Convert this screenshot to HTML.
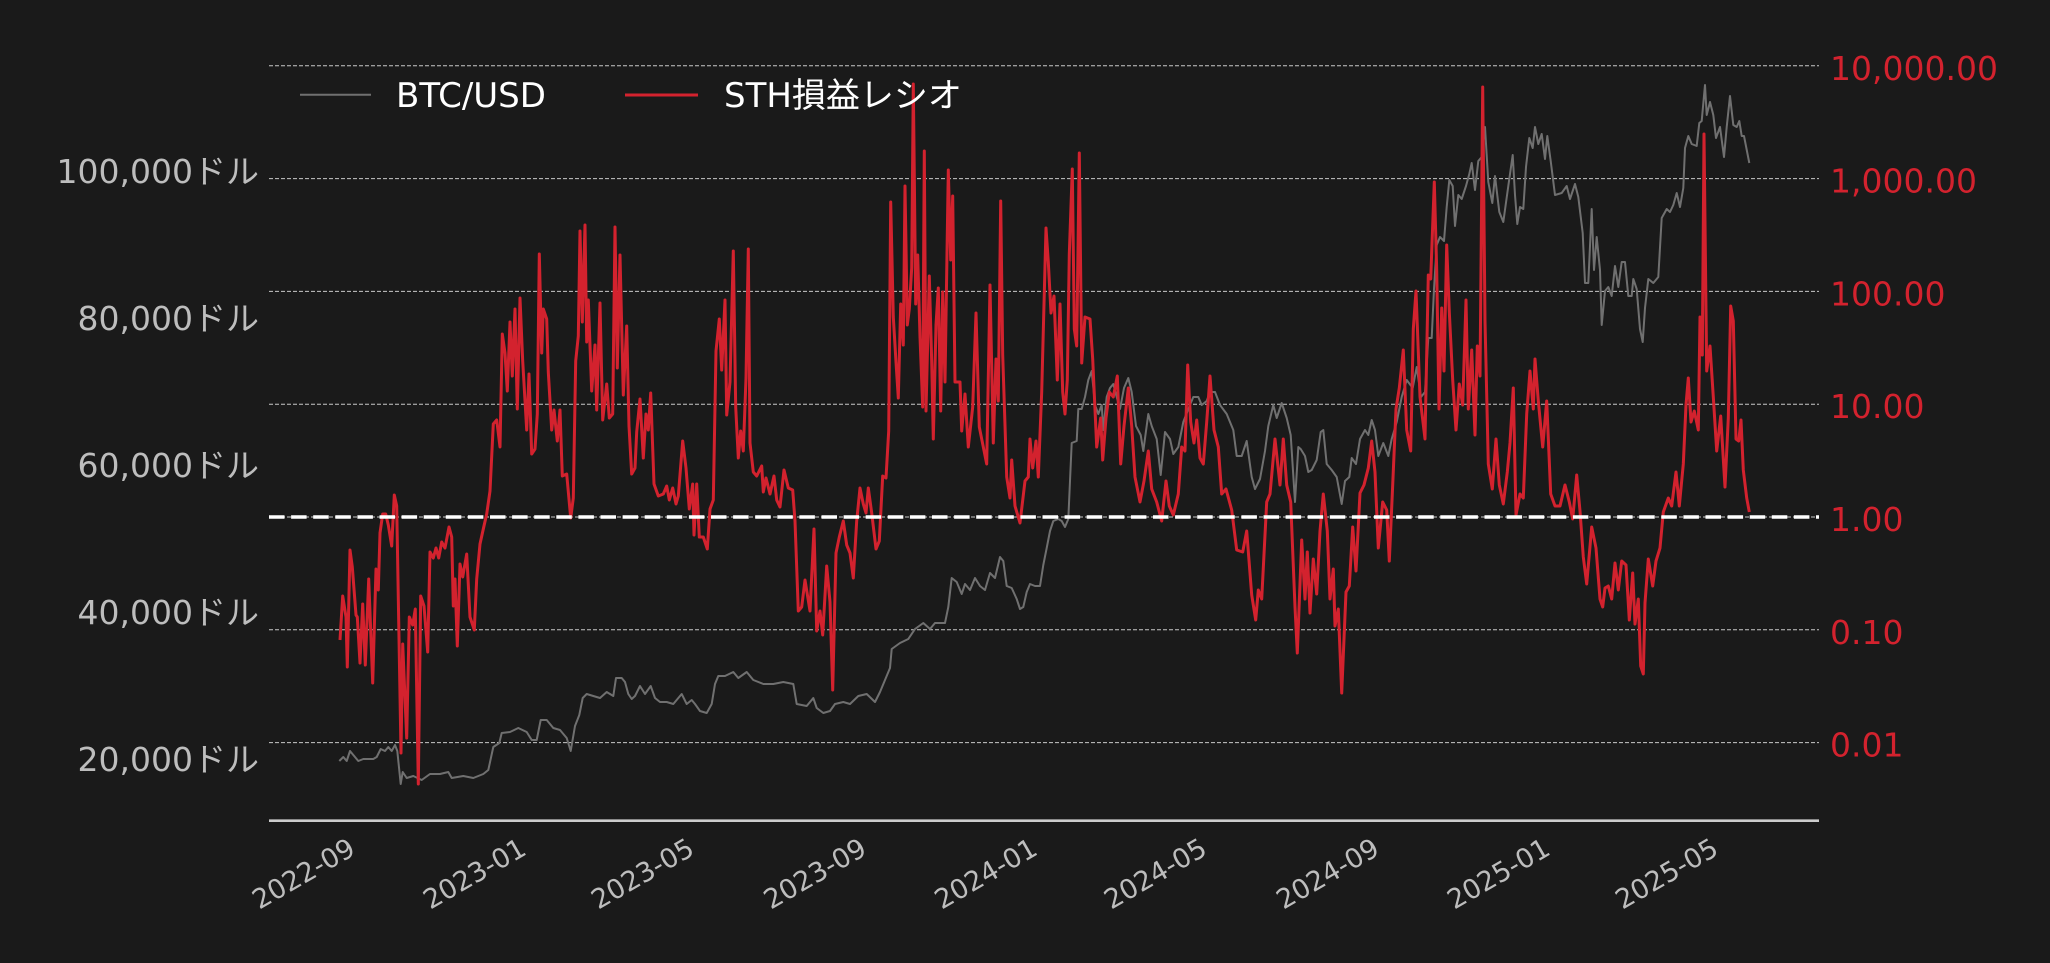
<!DOCTYPE html>
<html>
<head>
<meta charset="utf-8">
<style>
html,body{margin:0;padding:0;background:#1a1a1a;}
svg{display:block;}
.yl{font-family:"DejaVu Sans","Noto Sans CJK JP",sans-serif;font-size:33px;fill:#bdbdbd;}
.yr{font-family:"DejaVu Sans","Noto Sans CJK JP",sans-serif;font-size:33px;fill:#d3222e;}
.xl{font-family:"DejaVu Sans","Noto Sans CJK JP",sans-serif;font-size:27px;fill:#bdbdbd;}
.lg{font-family:"DejaVu Sans","Noto Sans CJK JP",sans-serif;font-size:34px;fill:#ffffff;}
</style>
</head>
<body>
<svg width="2050" height="963" viewBox="0 0 2050 963" xmlns="http://www.w3.org/2000/svg">
<rect x="0" y="0" width="2050" height="963" fill="#1a1a1a"/>

<!-- grid lines (right log axis) -->
<g stroke="#c8c8c8" stroke-width="1" stroke-dasharray="4 2">
<line x1="269" y1="65.8" x2="1819" y2="65.8"/>
<line x1="269" y1="178.6" x2="1819" y2="178.6"/>
<line x1="269" y1="291.4" x2="1819" y2="291.4"/>
<line x1="269" y1="404.2" x2="1819" y2="404.2"/>
<line x1="269" y1="517" x2="1819" y2="517"/>
<line x1="269" y1="629.8" x2="1819" y2="629.8"/>
<line x1="269" y1="742.6" x2="1819" y2="742.6"/>
</g>

<!-- BTC/USD -->
<polyline fill="none" stroke="#707070" stroke-width="2" stroke-linejoin="round" points="339.3,761 343.3,757 346.7,761 350,751 353.3,755 358.3,761 363.3,759 368.3,759 373.3,759 376.7,757 380.7,749 385,751 388.3,747 391.7,751 395,745 397.3,751 400.7,784 402.7,772 406.7,778 413.3,776 421.7,780 430,774 440,774 448.3,772 451.7,778 463.3,776 473.3,778 483.3,774 488.3,770 493.3,747 499.3,743 501.7,733 510,732 518.3,728 526.7,732 531.7,740 536.7,740 540.7,720 546.7,720 553.3,728 560,730 566.7,738 570.7,751 575,726 579.3,715 582.7,698 586.7,694 593.3,696 600,698 606.7,692 613.3,696 616,678 621.7,678 625,682 628.3,694 631.7,699 635,696 640,686 645,694 650.7,686 655,698 660,702 666.7,702 673.3,704 681.7,694 686.7,704 691.7,700 695,704 700,711 706.7,713 711.7,704 715,684 718.3,676 725,676 733.3,672 738.3,678 746.7,672 753.3,680 763.3,684 773.3,684 783.3,682 793.3,684 796.7,704 806.7,706 813.3,698 816.7,708 823.3,713 830,711 835,704 843.3,702 850,704 858.3,696 866.7,694 875,702 880,692 885,680 890,668 891.7,649 900,643 908.3,639 915,629 923.3,623 930,629 935,623 940,623 945,623 948.3,607 951.7,578 956.7,582 961.7,594 965,584 970,590 975,578 980,586 985,590 990,573 995,578 1000,557 1003.3,561 1006.7,586 1011.7,588 1016.7,599 1020,609 1023.3,607 1026.7,592 1030,584 1035,586 1040,586 1043.3,565 1046.7,548 1050,531 1053.3,521 1058.3,519 1061.7,521 1065,527 1068.3,519 1070,481 1071.7,443 1076.7,441 1078.3,409 1081.7,409 1085,397 1088.3,380 1091.7,371 1095,405 1098.3,414 1101.7,405 1103.3,430 1106.7,397 1110,388 1113.3,384 1116.7,397 1120,409 1124,388 1128.3,378 1131.7,392 1136,426 1140.7,435 1143.3,451 1148.3,414 1151.7,426 1156.7,439 1160.7,475 1165,432 1170,439 1173.3,454 1178.3,447 1183.3,422 1188.3,409 1193.3,397 1198.3,397 1201.7,405 1206.7,401 1210,392 1215,392 1220,405 1226.7,414 1233.3,430 1236.7,456 1241.7,456 1246.7,441 1251.7,477 1255,489 1260,479 1265,451 1268.3,426 1273.3,405 1276.7,418 1281.7,403 1286.7,418 1290.7,435 1295,502 1298.3,447 1300.7,449 1305,456 1308.3,472 1311.7,470 1316.7,460 1320.7,432 1323.3,430 1326.7,464 1331.7,470 1336.7,477 1341.7,504 1345,481 1349.3,477 1351.7,458 1356,464 1360,439 1365,430 1368.3,435 1371.7,420 1375,430 1378.3,456 1383.3,443 1388.3,456 1391.7,439 1396.7,422 1401.7,397 1406.7,380 1412.7,388 1416.7,367 1421,397 1425,392 1428.3,338 1431.7,338 1434,289 1436.7,245 1440,237 1444,241 1446.7,207 1449.3,180 1452.7,186 1455,226 1458.3,195 1461.7,199 1466,186 1469.3,174 1471.7,163 1475,190 1478.3,161 1481.7,157 1485,127 1488.3,182 1492.3,203 1495,176 1499.3,212 1503.3,222 1508.3,186 1512.7,155 1515,195 1517.3,224 1520,207 1523.3,209 1526,167 1529.3,138 1532.7,148 1535,127 1538.3,144 1541.7,134 1545,159 1547.3,136 1550.7,161 1555,195 1561.7,193 1566.7,186 1570,199 1575,184 1578.3,197 1582.7,233 1585,283 1588.3,283 1591.7,209 1594,270 1596.7,237 1600,270 1601.7,325 1605,291 1608.3,287 1611.7,296 1615,266 1618.3,287 1621.7,262 1625,262 1628.3,296 1631.7,296 1633.3,279 1636.7,289 1640,329 1642.7,342 1645,308 1648.3,279 1653.3,283 1658.3,277 1661.7,218 1666.7,209 1670,212 1673.3,205 1676.7,193 1680,207 1683.3,188 1685,148 1688.3,136 1691.7,144 1696.7,146 1699.3,123 1701.7,121 1705,85 1706.7,115 1710,102 1713.3,115 1716,138 1720,127 1724,157 1726.7,127 1730,96 1733.3,125 1736.7,127 1739.3,121 1741.7,136 1744,136 1749.3,163"/>

<!-- STH ratio -->
<polyline fill="none" stroke="#d3222e" stroke-width="3" stroke-linejoin="round" points="340,640 342.7,596 346,617 347.3,667 350,550 352.3,567 356,615 357.3,617 360,663 362.7,604 365.3,665 368.7,579 372.7,683 376,569 378.3,590 380,533 382.7,514 385.7,514 388.3,525 391.7,546 394.3,495 396.7,506 401,753 402.7,644 406.7,738 409.3,617 412.7,625 415.3,609 418.3,784 420.7,596 424,606 427.7,652 430,552 433.3,558 436,548 438.7,558 441.7,542 445,548 449,527 451.7,537 453.3,606 455,579 457.3,646 460,564 462.7,577 466.7,554 470,617 474.3,630 476.7,579 480,544 483.3,529 486.7,514 490,491 493.3,424 496.7,420 500,447 502.3,334 505,353 507.3,391 510,322 512.3,376 515,309 517.3,409 520,298 522.7,361 526.7,430 529,374 531.7,454 535,449 537.3,414 539.3,254 541.7,353 543.3,309 546.7,319 548.3,372 551.7,430 554,410 557.3,441 560,410 562.3,476 566.7,474 570.7,518 573.3,498 575.7,361 578.3,336 580,231 582.3,322 585,225 586.7,342 588.3,300 591.7,391 595,345 596.7,410 600,303 602.7,420 606.7,384 609.3,418 612.7,414 615,227 617.3,368 620,255 623.3,395 626.7,326 629,426 631.7,474 635,468 636.7,432 640,399 643.3,458 646,414 648.3,430 650.7,393 654,484 658.3,496 663.3,494 666.7,486 669.3,500 672.7,488 676,504 678.3,496 682.7,441 686,468 689.3,509 692.7,484 694,535 696.7,484 699.3,537 703.3,537 707.3,549 710,509 713.3,500 716,351 719.3,319 721.7,370 725,300 726.7,415 730,382 733.3,251 735.7,407 738.3,458 740.7,431 743.3,451 746,378 748.3,249 750,443 753.3,472 756.7,476 761.7,466 763.3,492 766,478 770,494 774,476 776.7,500 780,507 784,470 788.3,488 792.7,490 795,521 798.3,611 801.7,607 805,580 810,611 814,529 816.7,631 820,611 822.7,635 826.7,566 830,602 832.7,690 836,553 839.3,537 843.3,521 846.7,545 850,553 853.3,578 856.7,521 860,488 863.3,504 866,513 868.3,488 871.7,513 876,549 879.3,541 882.7,476 886,478 888.7,431 890.7,202 893.3,317 896,362 898.3,398 900.7,304 903.3,345 905,186 907.3,325 909.3,309 911.7,268 913.3,84 915.7,304 917.7,255 920,337 922.7,407 924.3,151 926,411 929.3,276 931.7,362 933.3,439 936,325 938.3,288 940.7,411 942.7,292 945,382 948.3,170 950.7,260 952.7,196 955,382 960,382 961.7,431 965,394 968.3,447 972.7,407 976,313 979.3,427 986.7,464 990,285 993.3,443 996,359 998.3,401 1000.7,201 1002.7,355 1006.7,477 1010,498 1011.7,460 1015,506 1020,523 1025,481 1028.3,477 1030,439 1032.7,468 1036,441 1038.3,477 1041.7,392 1046,228 1048.3,262 1051,313 1054,296 1057.3,380 1060,304 1062.7,392 1065,414 1067.3,380 1069.3,254 1072.3,169 1074.3,329 1076.7,346 1079.3,153 1081.7,363 1085,317 1090,319 1092.7,359 1096.7,447 1100.7,418 1102.7,460 1106,418 1109.3,392 1113.3,397 1117.3,376 1120.7,464 1124,426 1128.3,388 1131.7,426 1135,477 1140,502 1144,481 1148.3,451 1151.7,489 1156.7,502 1161.7,521 1166,481 1169.3,506 1173.3,515 1178.3,494 1181.7,447 1185,451 1187.7,365 1190.7,422 1194,443 1196.7,420 1200,458 1203.3,464 1206.7,422 1210,376 1214,430 1218.3,447 1221.7,494 1226,489 1231.7,510 1236.7,550 1242.7,552 1246.7,531 1251.7,595 1255.7,620 1258.3,590 1261.7,599 1266.7,502 1270,494 1275,439 1280,485 1283.3,439 1286.7,485 1290.7,502 1295,607 1297.3,653 1301.7,540 1305,599 1307.3,552 1310,613 1313.3,559 1316.7,594 1320,531 1323.3,494 1327.3,531 1330,599 1333.3,569 1335,626 1338.3,609 1341.7,693 1346,592 1349.3,586 1352.7,527 1356,571 1360,493 1364,485 1368.3,468 1371.7,441 1375,472 1378.3,548 1382.7,502 1386.7,510 1389.3,561 1392.7,485 1396,409 1399.3,388 1403.3,350 1406.7,430 1410.7,451 1413.3,329 1416,291 1420,397 1425,439 1428.3,275 1430.7,279 1434.3,182 1436.7,270 1439,409 1441.7,308 1444,371 1446.7,245 1449.3,312 1452.7,380 1456,430 1459.3,384 1462.7,405 1466,300 1468.3,409 1471.7,350 1475,435 1477.3,346 1480,376 1482.7,87 1485,321 1488.3,464 1492.3,489 1496,439 1499.3,485 1503.3,504 1507.3,472 1510,443 1513.3,388 1516,515 1520,494 1523.3,498 1526.7,414 1530,371 1533.3,409 1535,359 1538.3,401 1542.7,447 1546.7,401 1550.7,494 1555,506 1560,506 1565,485 1569.3,502 1572.7,519 1576.7,475 1580,511 1583.3,557 1586.7,584 1591.7,527 1596,548 1600,599 1602.7,607 1605,588 1608.3,586 1611.7,599 1615,563 1618.3,590 1621.7,561 1626,565 1629.3,620 1632.7,573 1635,624 1638.3,599 1640.7,666 1643.3,674 1645,603 1648.3,559 1652.7,586 1656,561 1660,548 1663.3,512 1668.3,498 1671.7,506 1676,472 1679.3,506 1683.3,464 1686,405 1688.3,378 1691,422 1694.3,411 1698.3,430 1700,317 1702.3,355 1704,134 1706.7,371 1710,346 1713.3,397 1716.7,451 1720.7,416 1725,487 1728.3,418 1730.7,306 1733.3,321 1736,439 1738.7,441 1741,420 1743.3,470 1746.7,498 1749.3,512"/>

<!-- reference line at 1.00 -->
<line x1="269" y1="517" x2="1819" y2="517" stroke="#ffffff" stroke-width="3.5" stroke-dasharray="15.5 6.6"/>

<!-- bottom spine -->
<line x1="269" y1="820.7" x2="1819" y2="820.7" stroke="#cccccc" stroke-width="2.7"/>

<!-- left tick labels -->
<text class="yl" x="259" y="183" text-anchor="end">100,000ドル</text>
<text class="yl" x="259" y="330" text-anchor="end">80,000ドル</text>
<text class="yl" x="259" y="477" text-anchor="end">60,000ドル</text>
<text class="yl" x="259" y="624" text-anchor="end">40,000ドル</text>
<text class="yl" x="259" y="771" text-anchor="end">20,000ドル</text>

<!-- right tick labels -->
<text class="yr" x="1830" y="80">10,000.00</text>
<text class="yr" x="1830" y="192.6">1,000.00</text>
<text class="yr" x="1830" y="305.4">100.00</text>
<text class="yr" x="1830" y="418.2">10.00</text>
<text class="yr" x="1830" y="531">1.00</text>
<text class="yr" x="1830" y="643.8">0.10</text>
<text class="yr" x="1830" y="756.6">0.01</text>

<!-- x tick labels -->
<text class="xl" text-anchor="end" transform="translate(357,853.5) rotate(-30)">2022-09</text>
<text class="xl" text-anchor="end" transform="translate(528,853.5) rotate(-30)">2023-01</text>
<text class="xl" text-anchor="end" transform="translate(696,853.5) rotate(-30)">2023-05</text>
<text class="xl" text-anchor="end" transform="translate(868.4,853.5) rotate(-30)">2023-09</text>
<text class="xl" text-anchor="end" transform="translate(1039.3,853.5) rotate(-30)">2024-01</text>
<text class="xl" text-anchor="end" transform="translate(1208.8,853.5) rotate(-30)">2024-05</text>
<text class="xl" text-anchor="end" transform="translate(1381.1,853.5) rotate(-30)">2024-09</text>
<text class="xl" text-anchor="end" transform="translate(1552,853.5) rotate(-30)">2025-01</text>
<text class="xl" text-anchor="end" transform="translate(1720.1,853.5) rotate(-30)">2025-05</text>

<!-- legend -->
<line x1="300" y1="94.7" x2="371" y2="94.7" stroke="#707070" stroke-width="2"/>
<text class="lg" x="396" y="107">BTC/USD</text>
<line x1="625" y1="95" x2="698" y2="95" stroke="#d3222e" stroke-width="3"/>
<text class="lg" x="724" y="107">STH損益レシオ</text>
</svg>
</body>
</html>
